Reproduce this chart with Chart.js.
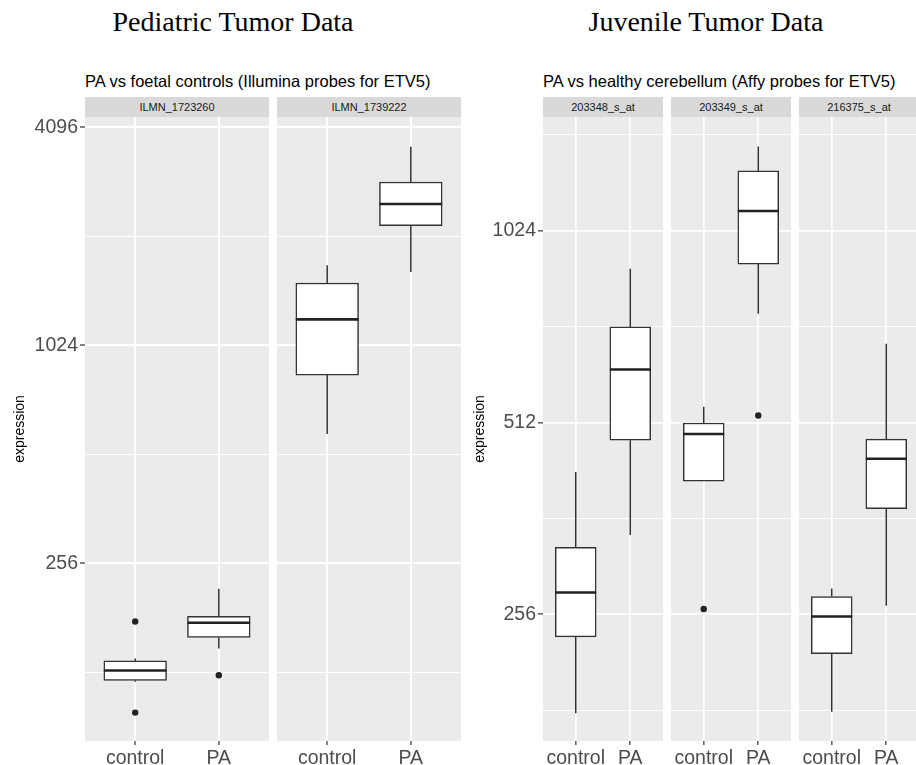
<!DOCTYPE html>
<html>
<head>
<meta charset="utf-8">
<script src="https://cdn.jsdelivr.net/npm/chart.js@4.4.1/dist/chart.umd.min.js"></script>
<style>
  body { margin: 0; width: 916px; height: 765px; overflow: hidden; background: #fff; position: relative;
         font-family: "Liberation Sans", Arial, sans-serif; }
  canvas { position: absolute; }
  .title { position: absolute; top: 8px; width: 400px; text-align: center; font-family: "Liberation Serif", serif;
           font-size: 28px; line-height: 28px; color: #000; white-space: nowrap; }
  .sub { position: absolute; top: 73px; font-size: 16.5px; line-height: 16.5px; color: #000; white-space: nowrap; }
  .strip { position: absolute; top: 97px; height: 20px; line-height: 20px; background: #D9D9D9; color: #1A1A1A;
           font-size: 11px; text-align: center; white-space: nowrap; }
</style>
</head>
<body>
<div class="title" style="left:33px">Pediatric Tumor Data</div>
<div class="title" style="left:506px">Juvenile Tumor Data</div>
<div class="sub" style="left:85px">PA vs foetal controls (Illumina probes for ETV5)</div>
<div class="sub" style="left:543px">PA vs healthy cerebellum (Affy probes for ETV5)</div>
<script>
// Data
const categories = ['control', 'PA'];
const pedProbes = ['ILMN_1723260', 'ILMN_1739222'];
const juvProbes = ['203348_s_at', '203349_s_at', '216375_s_at'];

// [lower whisker, Q1, median, Q3, upper whisker] for control, PA
const ilmn1723260Box = [[120.6, 121.8, 129.6, 137.8, 140], [149, 160, 175.6, 183, 218]];
const ilmn1723260Out = [[177, 99.2], [125.8]];
const ilmn1739222Box = [[583, 848, 1209, 1523, 1706], [1634, 2193, 2518, 2896, 3625]];
const ilmn1739222Out = [[], []];

const p203348Box = [[179, 236, 277, 326, 428], [341, 480, 620, 723, 892]];
const p203348Out = [[], []];
const p203349Box = [[414, 414, 491, 511, 542], [758, 907, 1099, 1270, 1387]];
const p203349Out = [[261], [525]];
const p216375Box = [[180, 222, 254, 273, 281], [264, 375, 449, 482, 680]];
const p216375Out = [[], []];

// y axes (log2 scale)
const pedRange = [82.8, 4377];
const pedMajor = [256, 1024, 4096];
const pedMinor = [128, 512, 2048];
const juvRange = [162, 1543];
const juvMajor = [256, 512, 1024];
const juvMinor = [181.02, 362.04, 724.08, 1448.15];

Chart.defaults.font.family = '"Liberation Sans", Arial, sans-serif';

const panelBg = {
  id: 'panelBg',
  beforeDraw(chart) {
    const { ctx, chartArea: a } = chart;
    ctx.save();
    ctx.fillStyle = '#EBEBEB';
    ctx.fillRect(a.left, a.top, a.right - a.left, a.bottom - a.top);
    ctx.restore();
  }
};

function addStrip(text, x0, w) {
  const d = document.createElement('div');
  d.className = 'strip';
  d.style.left = x0 + 'px';
  d.style.width = w + 'px';
  d.textContent = text;
  document.body.appendChild(d);
}

function drawPanel(p) {
  addStrip(p.probe, p.x0, p.w);
  const canvas = document.createElement('canvas');
  canvas.width = p.axisW + p.w;
  canvas.height = 648;
  canvas.style.left = (p.x0 - p.axisW) + 'px';
  canvas.style.top = '117px';
  document.body.appendChild(canvas);

  const whiskers = [], boxes = [], medians = [], dots = [];
  p.box.forEach((b, i) => {
    const x = i + 1;
    whiskers.push({ x, y: b[0] }, { x, y: b[1] }, { x, y: null }, { x, y: b[3] }, { x, y: b[4] }, { x, y: null });
    boxes.push({ x, y: [b[1], b[3]] });
    medians.push({ x: x - 0.375, y: b[2] }, { x: x + 0.375, y: b[2] }, { x, y: null });
    p.out[i].forEach(v => dots.push({ x, y: v }));
  });

  const showY = p.axisW > 0;
  const isMajor = v => p.major.includes(v);

  new Chart(canvas, {
    type: 'bar',
    data: {
      datasets: [
        { type: 'line', data: medians, borderColor: '#222', borderWidth: 2.6, pointRadius: 0, order: 0 },
        { type: 'scatter', data: dots, backgroundColor: '#222', borderWidth: 0, pointRadius: 3.2, order: 1 },
        { type: 'bar', data: boxes, backgroundColor: '#fff', borderColor: '#333', borderWidth: 1.5,
          borderSkipped: false, barThickness: p.barPx, order: 2 },
        { type: 'line', data: whiskers, borderColor: '#333', borderWidth: 1.5, pointRadius: 0, order: 3 }
      ]
    },
    options: {
      responsive: false,
      animation: false,
      events: [],
      layout: { padding: 0, autoPadding: false },
      plugins: { legend: { display: false }, tooltip: { enabled: false } },
      scales: {
        x: {
          type: 'linear', min: 0.4, max: 2.6, offset: false, bounds: 'data',
          afterBuildTicks: s => { s.ticks = categories.map((c, i) => ({ value: i + 1 })); },
          afterFit: s => { s.height = 24; s.paddingLeft = 0; s.paddingRight = 0; },
          border: { display: false },
          grid: { color: '#fff', lineWidth: p.gridW, offset: false, drawTicks: true, tickLength: 4,
                  tickColor: '#333', tickWidth: 1.2 },
          ticks: { callback: v => categories[v - 1], color: '#4D4D4D', font: { size: 19.5 },
                   padding: 2, maxRotation: 0, autoSkip: false }
        },
        y: {
          type: 'logarithmic', min: p.range[0], max: p.range[1], bounds: 'data',
          afterBuildTicks: s => {
            s.ticks = [...p.minor, ...p.major].sort((a, b) => a - b).map(v => ({ value: v }));
          },
          afterFit: s => { s.width = p.axisW; s.paddingTop = 0; s.paddingBottom = 0; },
          border: { display: false },
          grid: {
            color: '#fff',
            lineWidth: c => (c.tick && isMajor(c.tick.value)) ? p.gridW : 1,
            drawTicks: showY, tickLength: 5, tickWidth: 1.2,
            tickColor: c => (c.tick && isMajor(c.tick.value)) ? '#333' : 'rgba(0,0,0,0)'
          },
          ticks: { display: showY, callback: v => isMajor(v) ? String(v) : '', color: '#4D4D4D',
                   font: { size: 19.5 }, padding: 2, autoSkip: false },
          title: { display: showY, text: 'expression', color: '#000', font: { size: 14 },
                   padding: { top: p.titlePad, bottom: 0 } }
        }
      }
    },
    plugins: [panelBg]
  });
}

const pedW = 184, juvW = 120;
const pedBar = 0.75 * pedW / 2.2, juvBar = 0.75 * juvW / 2.2;

drawPanel({ probe: pedProbes[0], box: ilmn1723260Box, out: ilmn1723260Out, x0: 85, w: pedW, axisW: 85, gridW: 2,
            titlePad: 11.6, barPx: pedBar, range: pedRange, major: pedMajor, minor: pedMinor });
drawPanel({ probe: pedProbes[1], box: ilmn1739222Box, out: ilmn1739222Out, x0: 277, w: pedW, axisW: 0, gridW: 2,
            titlePad: 0, barPx: pedBar, range: pedRange, major: pedMajor, minor: pedMinor });
drawPanel({ probe: juvProbes[0], box: p203348Box, out: p203348Out, x0: 543, w: juvW, axisW: 81, gridW: 1.7,
            titlePad: 9.6, barPx: juvBar, range: juvRange, major: juvMajor, minor: juvMinor });
drawPanel({ probe: juvProbes[1], box: p203349Box, out: p203349Out, x0: 671, w: juvW, axisW: 0, gridW: 1.7,
            titlePad: 0, barPx: juvBar, range: juvRange, major: juvMajor, minor: juvMinor });
drawPanel({ probe: juvProbes[2], box: p216375Box, out: p216375Out, x0: 799, w: juvW, axisW: 0, gridW: 1.7,
            titlePad: 0, barPx: juvBar, range: juvRange, major: juvMajor, minor: juvMinor });
</script>
</body>
</html>
